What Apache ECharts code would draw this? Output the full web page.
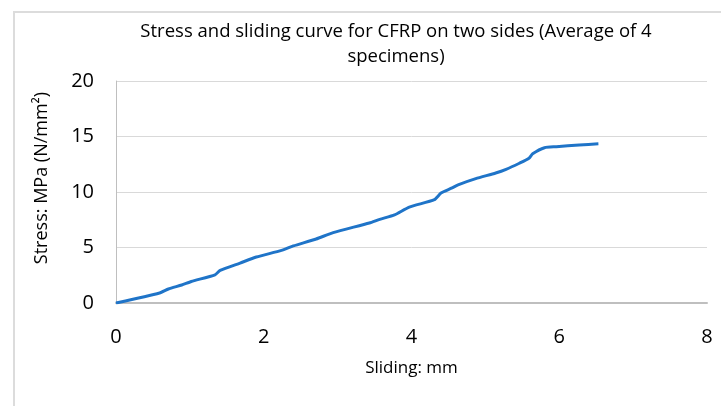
<!DOCTYPE html>
<html>
<head>
<meta charset="utf-8">
<script src="https://cdn.jsdelivr.net/npm/echarts@6/dist/echarts.min.js"></script>
<style>
  html, body { margin: 0; padding: 0; background: #fff; }
  #chart { width: 721px; height: 406px; }
</style>
</head>
<body>
<div id="chart"></div>
<script>
// sliding (mm) and stress (MPa)
const sliding = [0, 0.59, 0.71, 0.89, 1.02, 1.34, 1.41, 1.68, 1.90, 2.24, 2.40, 2.71, 2.94, 3.43, 3.57, 3.77, 3.97, 4.31, 4.40, 4.54, 4.63, 4.87, 5.14, 5.28, 5.46, 5.59, 5.64, 5.80, 5.96, 6.27, 6.53];
const stress  = [0, 0.9, 1.26, 1.62, 1.94, 2.54, 2.94, 3.6, 4.14, 4.74, 5.14, 5.77, 6.34, 7.21, 7.54, 7.94, 8.64, 9.31, 9.91, 10.34, 10.64, 11.2, 11.71, 12.04, 12.59, 13.04, 13.44, 13.99, 14.08, 14.24, 14.34];
const xTicks = [0, 2, 4, 6, 8];
const yTicks = [0, 5, 10, 15, 20];

const font = '"Open Sans", "Noto Sans", sans-serif';
const chart = echarts.init(document.getElementById('chart'));

chart.setOption({
    animation: false,
    backgroundColor: '#fff',
    title: {
        text: 'Stress and sliding curve for CFRP on two sides (Average of 4\nspecimens)',
        left: 391,
        top: 14,
        textAlign: 'center',
        textStyle: { fontFamily: font, fontSize: 18.5, fontWeight: 'normal', color: '#000', lineHeight: 25 }
    },
    graphic: [{
        type: 'rect',
        shape: { x: 14, y: 12, width: 730, height: 410 },
        style: { fill: 'none', stroke: '#dcdcdc', lineWidth: 2 },
        silent: true
    }, {
        // y axis title, Excel puts it a bit above the plot centre
        type: 'text',
        x: 42,
        y: 178,
        rotation: Math.PI / 2,
        style: {
            text: 'Stress: MPa (N/mm²)',
            font: '18px ' + font,
            fill: '#000',
            textAlign: 'center',
            textVerticalAlign: 'middle'
        },
        silent: true
    }],
    grid: { left: 116, right: 14, top: 81, bottom: 103 },
    xAxis: {
        type: 'value',
        min: xTicks[0],
        max: xTicks[xTicks.length - 1],
        interval: 2,
        name: 'Sliding: mm',
        nameLocation: 'middle',
        nameGap: 57,
        nameTextStyle: { fontFamily: font, fontSize: 17, color: '#000' },
        axisLine: { show: true, lineStyle: { color: '#bfbfbf', width: 2 } },
        axisTick: { show: false },
        splitLine: { show: false },
        axisLabel: { fontFamily: font, fontSize: 20, color: '#000', margin: 24 }
    },
    yAxis: {
        type: 'value',
        min: yTicks[0],
        max: yTicks[yTicks.length - 1],
        interval: 5,
        axisLine: { show: true, lineStyle: { color: '#bfbfbf', width: 1 } },
        axisTick: { show: false },
        splitLine: { lineStyle: { color: '#d9d9d9', width: 1 } },
        axisLabel: { fontFamily: font, fontSize: 20, color: '#000', margin: 22 }
    },
    series: [{
        type: 'line',
        data: sliding.map((x, i) => [x, stress[i]]),
        showSymbol: false,
        smooth: 0.2,
        lineStyle: { color: '#1f74c8', width: 3 }
    }]
});
</script>
</body>
</html>
